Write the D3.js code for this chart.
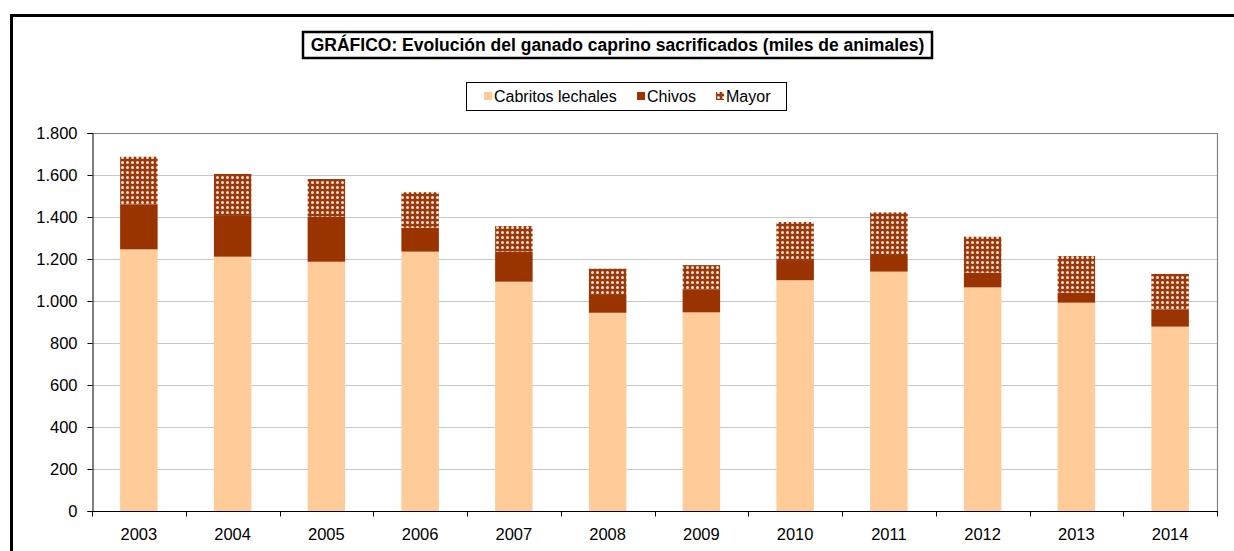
<!DOCTYPE html>
<html>
<head>
<meta charset="utf-8">
<script src="https://cdn.jsdelivr.net/npm/d3@7"></script>
<style>
  body { margin: 0; background: #fff; }
  svg { display: block; font-family: "Liberation Sans", Arial, sans-serif; }
</style>
</head>
<body>
<svg id="chart" width="1234" height="551"></svg>
<script>
// data (miles de animales)
const years = ["2003","2004","2005","2006","2007","2008","2009","2010","2011","2012","2013","2014"];
const cabritos = [1246, 1211, 1187, 1235, 1092, 944, 946, 1099, 1140, 1065, 992, 878];
const chivos   = [214, 194, 214, 114, 143, 89, 110, 96, 79, 70, 48, 81];
const mayor    = [227, 200, 180, 169, 122, 121, 115, 181, 203, 171, 174, 170];
const seriesNames = ["Cabritos lechales", "Chivos", "Mayor"];
const yTicks = [0, 200, 400, 600, 800, 1000, 1200, 1400, 1600, 1800];

const svg = d3.select("#chart");
const pLeft = 92, pRight = 1217, pTop = 133, pBottom = 511;

// outer frame
svg.append("rect").attr("x", 11.5).attr("y", 15.5).attr("width", 1240).attr("height", 560)
    .attr("fill", "none").attr("stroke", "#000").attr("stroke-width", 3);

// pattern for "Mayor"
const defs = svg.append("defs");
const pat = defs.append("pattern").attr("id", "dots")
    .attr("patternUnits", "userSpaceOnUse").attr("width", 5).attr("height", 5);
pat.append("rect").attr("width", 5).attr("height", 5).attr("fill", "#9a3a0c");
pat.append("circle").attr("cx", 2.5).attr("cy", 2.5).attr("r", 1.5).attr("fill", "#f5e0d2");

const colors = ["#ffcc99", "#993300", "url(#dots)"];

const rows = years.map((y, i) => ({year: y, c: cabritos[i], ch: chivos[i], m: mayor[i]}));
const stack = d3.stack().keys(["c", "ch", "m"])(rows);

const x = d3.scaleBand().domain(years).range([pLeft, pRight]);
const y = d3.scaleLinear().domain([0, 1800]).range([pBottom, pTop]);
const loc = d3.formatLocale({decimal: ",", thousands: ".", grouping: [3], currency: ["", ""]});
const fmt = loc.format(",d");

// gridlines
svg.append("g").selectAll("line").data(yTicks.slice(1, -1)).enter().append("line")
    .attr("x1", pLeft).attr("x2", pRight)
    .attr("y1", d => Math.round(y(d)) + 0.5).attr("y2", d => Math.round(y(d)) + 0.5)
    .attr("stroke", "#c8c8c8").attr("stroke-width", 1.2);
// plot frame top / right
svg.append("path").attr("d", `M${pLeft},${pTop + 0.5}H${pRight + 0.5}V${pBottom}`)
    .attr("fill", "none").attr("stroke", "#808080").attr("stroke-width", 1.2);

// bars
const bw = x.bandwidth() * 0.4;
svg.append("g").selectAll("g").data(stack).enter().append("g")
    .attr("fill", (d, i) => colors[i])
    .selectAll("rect").data(d => d).enter().append("rect")
    .attr("x", d => x(d.data.year) + (x.bandwidth() - bw) / 2)
    .attr("width", bw)
    .attr("y", d => y(d[1]))
    .attr("height", d => y(d[0]) - y(d[1]));

// y axis
const yAxis = svg.append("g").attr("transform", `translate(${pLeft + 0.5},0)`)
    .call(d3.axisLeft(y).tickValues(yTicks).tickFormat(fmt).tickSize(5).tickPadding(10));
yAxis.select(".domain").attr("stroke", "#000");
yAxis.selectAll("text").attr("font-size", 16.5).attr("fill", "#000")
    .attr("font-family", "Liberation Sans, Arial, sans-serif");

// x axis
const xAxis = svg.append("g").attr("transform", `translate(0,${pBottom + 0.5})`);
xAxis.append("line").attr("x1", pLeft).attr("x2", pRight + 1).attr("stroke", "#000");
xAxis.selectAll(".tk").data(years.concat(["end"])).enter().append("line")
    .attr("x1", (d, i) => Math.round(pLeft + i * x.step()) + 0.5)
    .attr("x2", (d, i) => Math.round(pLeft + i * x.step()) + 0.5)
    .attr("y1", 0).attr("y2", 5).attr("stroke", "#000");
xAxis.selectAll("text").data(years).enter().append("text")
    .attr("x", d => x(d) + x.bandwidth() / 2).attr("y", 28)
    .attr("text-anchor", "middle").attr("font-size", 16.5).text(d => d);

// title
svg.append("rect").attr("x", 303).attr("y", 32).attr("width", 629).attr("height", 26)
    .attr("fill", "#fff").attr("stroke", "#000").attr("stroke-width", 2.5);
svg.append("text").attr("x", 617.5).attr("y", 51).attr("text-anchor", "middle")
    .attr("font-size", 17.5).attr("font-weight", "bold")
    .text("GRÁFICO: Evolución del ganado caprino sacrificados (miles de animales)");

// legend
svg.append("rect").attr("x", 466.5).attr("y", 82.5).attr("width", 320).attr("height", 28)
    .attr("fill", "#fff").attr("stroke", "#000").attr("stroke-width", 1);
const legX = [484, 637, 716];
const leg = svg.append("g").selectAll("g").data(seriesNames).enter().append("g")
    .attr("transform", (d, i) => `translate(${legX[i]},0)`);
leg.append("rect").attr("y", 92).attr("width", 8).attr("height", 8)
    .attr("fill", (d, i) => colors[i]);
leg.append("text").attr("x", 10).attr("y", 102).attr("font-size", 16).text(d => d);
</script>
</body>
</html>
